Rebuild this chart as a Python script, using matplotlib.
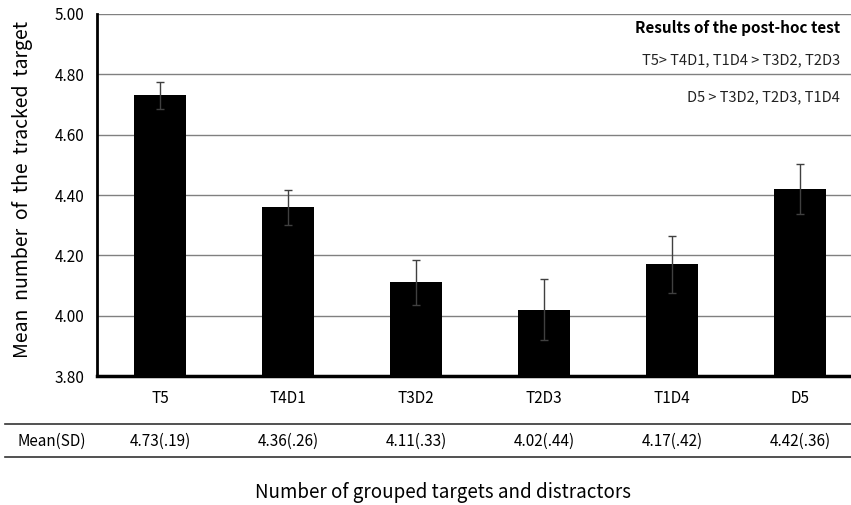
import matplotlib.pyplot as plt
from matplotlib.transforms import blended_transform_factory

plt.rcParams['font.family'] = ['Noto Sans CJK KR', 'DejaVu Sans']

# data
groups = ['T5', 'T4D1', 'T3D2', 'T2D3', 'T1D4', 'D5']
means = [4.73, 4.36, 4.11, 4.02, 4.17, 4.42]
errors = [0.044, 0.058, 0.075, 0.100, 0.095, 0.082]
table_labels = ['4.73(.19)', '4.36(.26)', '4.11(.33)', '4.02(.44)', '4.17(.42)', '4.42(.36)']
yticks = [3.80, 4.00, 4.20, 4.40, 4.60, 4.80, 5.00]
posthoc = ['T5> T4D1, T1D4 > T3D2, T2D3', 'D5 > T3D2, T2D3, T1D4']

fig = plt.figure(figsize=(8.51, 5.05), dpi=100)
ax = fig.add_axes([0.114, 0.2554, 0.886, 0.7169])

x = list(range(len(groups)))
ax.bar(x, [m - 3.8 for m in means], bottom=3.8, width=0.406, color='black', zorder=3)
ax.errorbar(x, means, yerr=errors, fmt='none', ecolor='#404040', elinewidth=1,
            capsize=3, capthick=1, zorder=4)

ax.set_ylim(3.8, 5.0)
ax.set_xlim(-0.492, 5.398)
ax.set_yticks(yticks)
ax.set_yticklabels([f'{v:.2f}' for v in yticks], fontsize=11)
ax.set_xticks(x)
ax.set_xticklabels(groups, fontsize=11)
ax.tick_params(axis='both', length=0)
ax.tick_params(axis='x', pad=10)
ax.tick_params(axis='y', pad=9)
ax.yaxis.grid(True, color='#808080', linewidth=1, zorder=0)
ax.set_axisbelow(True)

for side in ['top', 'right']:
    ax.spines[side].set_visible(False)
ax.spines['left'].set_linewidth(2)
ax.spines['bottom'].set_linewidth(2.5)
ax.spines['left'].set_zorder(5)
ax.spines['bottom'].set_zorder(5)

# post-hoc notes in the upper right
fig.text(0.987, 0.9446, 'Results of the post-hoc test', ha='right', va='center',
         fontsize=11, fontweight='bold')
fig.text(0.987, 0.881, posthoc[0], ha='right', va='center', fontsize=10.5, color='#222222')
fig.text(0.987, 0.808, posthoc[1], ha='right', va='center', fontsize=10.5, color='#222222')

# table of means under the axis
fig.add_artist(plt.Line2D([0.006, 1.0], [0.1604, 0.1604], color='#333333', linewidth=1.2))
fig.add_artist(plt.Line2D([0.006, 1.0], [0.095, 0.095], color='#333333', linewidth=1.2))
fig.text(0.021, 0.127, 'Mean(SD)', ha='left', va='center', fontsize=11)
trans = blended_transform_factory(ax.transData, fig.transFigure)
for xi, lab in zip(x, table_labels):
    ax.text(xi, 0.127, lab, transform=trans, ha='center', va='center', fontsize=11, clip_on=False)

fig.text(0.52, 0.024, 'Number of grouped targets and distractors', ha='center', va='center', fontsize=13.5)
fig.text(0.026, 0.624, 'Mean  number  of  the  tracked  target', ha='center', va='center',
         rotation=90, fontsize=14)

fig.savefig('out.png', dpi=100)
